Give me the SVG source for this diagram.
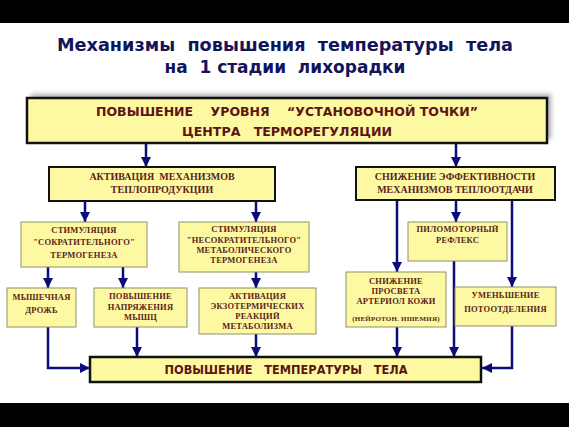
<svg xmlns="http://www.w3.org/2000/svg" width="569" height="427" viewBox="0 0 569 427">
<style>
text{white-space:pre}
.bar{fill:#000}
.title{font-family:"DejaVu Sans",Verdana,sans-serif;font-weight:bold;font-size:18px;fill:#14145a;text-anchor:middle}
.big{fill:#fdf9a2;stroke:#111;stroke-width:2.5}
.mid{fill:#fdf9a2;stroke:#111;stroke-width:2}
.sm{fill:#fdf9a2;stroke:#8f8f6a;stroke-width:1}
.bt{font-family:"DejaVu Sans",Tahoma,sans-serif;font-weight:bold;font-size:12.5px;fill:#5e1414;text-anchor:middle}
.st{font-family:"Liberation Serif","Times New Roman",serif;font-weight:bold;font-size:10px;fill:#5a2418;text-anchor:middle}
.tt{font-family:"Liberation Serif","Times New Roman",serif;font-weight:bold;font-size:8.5px;fill:#5a2418;text-anchor:middle;letter-spacing:0.2px}
.ln{fill:none;stroke:#0c0c78;stroke-width:2.5}
</style>
<defs>
<marker id="ah" viewBox="0 0 10 10" refX="10" refY="5" markerWidth="4" markerHeight="4" orient="auto" markerUnits="strokeWidth">
<path d="M0,0 L10,5 L0,10 z" fill="#0c0c78"/>
</marker>
<filter id="blur" x="-10%" y="-50%" width="120%" height="200%">
<feGaussianBlur stdDeviation="2.5"/>
</filter>
</defs>
<rect class="bar" x="0" y="0" width="569" height="23"/>
<rect class="bar" x="0" y="403" width="569" height="24"/>
<text class="title" x="285" y="51" textLength="456" lengthAdjust="spacingAndGlyphs">Механизмы  повышения  температуры  тела</text>
<text class="title" x="285" y="73" textLength="241" lengthAdjust="spacingAndGlyphs">на  1 стадии  лихорадки</text>

<g id="connectors">
<line class="ln" x1="146" y1="143" x2="146" y2="167" marker-end="url(#ah)"/>
<line class="ln" x1="456" y1="143" x2="456" y2="167" marker-end="url(#ah)"/>
<line class="ln" x1="85" y1="201" x2="85" y2="222" marker-end="url(#ah)"/>
<line class="ln" x1="256" y1="201" x2="256" y2="222" marker-end="url(#ah)"/>
<line class="ln" x1="48" y1="267" x2="48" y2="288" marker-end="url(#ah)"/>
<line class="ln" x1="123" y1="267" x2="123" y2="288" marker-end="url(#ah)"/>
<line class="ln" x1="256" y1="272" x2="256" y2="288" marker-end="url(#ah)"/>
<polyline class="ln" points="48,327 48,368 90,368" marker-end="url(#ah)"/>
<line class="ln" x1="137" y1="327" x2="137" y2="357" marker-end="url(#ah)"/>
<line class="ln" x1="256" y1="334" x2="256" y2="357" marker-end="url(#ah)"/>
<line class="ln" x1="397" y1="200" x2="397" y2="272" marker-end="url(#ah)"/>
<line class="ln" x1="456" y1="200" x2="456" y2="222" marker-end="url(#ah)"/>
<line class="ln" x1="512" y1="200" x2="512" y2="287" marker-end="url(#ah)"/>
<line class="ln" x1="397" y1="327" x2="397" y2="357" marker-end="url(#ah)"/>
<line class="ln" x1="454" y1="261" x2="454" y2="357" marker-end="url(#ah)"/>
<polyline class="ln" points="512,326 512,368 482,368" marker-end="url(#ah)"/>
</g>

<g id="n-setpoint">
<rect x="31" y="94" width="520" height="45" fill="#777" opacity="0.6" filter="url(#blur)"/>
<rect class="big" x="27" y="98" width="520" height="45"/>
<text class="bt" x="287" y="116" textLength="382" lengthAdjust="spacingAndGlyphs">ПОВЫШЕНИЕ    УРОВНЯ    “УСТАНОВОЧНОЙ ТОЧКИ”</text>
<text class="bt" x="287" y="136" textLength="210" lengthAdjust="spacingAndGlyphs">ЦЕНТРА   ТЕРМОРЕГУЛЯЦИИ</text>
</g>

<g id="n-activation">
<rect class="mid" x="49" y="167" width="226" height="34"/>
<text class="st" x="162" y="180">АКТИВАЦИЯ  МЕХАНИЗМОВ</text>
<text class="st" x="162" y="193">ТЕПЛОПРОДУКЦИИ</text>
</g>

<g id="n-reduction">
<rect class="mid" x="356" y="167" width="199" height="33"/>
<text class="st" x="455" y="180">СНИЖЕНИЕ ЭФФЕКТИВНОСТИ</text>
<text class="st" x="455" y="193">МЕХАНИЗМОВ ТЕПЛООТДАЧИ</text>
</g>

<g id="n-shiver-thermo">
<rect class="sm" x="21" y="222" width="126" height="45"/>
<text class="tt" x="84" y="233">СТИМУЛЯЦИЯ</text>
<text class="tt" x="84" y="245">"СОКРАТИТЕЛЬНОГО"</text>
<text class="tt" x="84" y="258">ТЕРМОГЕНЕЗА</text>
</g>

<g id="n-nonshiver-thermo">
<rect class="sm" x="179" y="222" width="130" height="50"/>
<text class="tt" x="244" y="232">СТИМУЛЯЦИЯ</text>
<text class="tt" x="244" y="243">"НЕСОКРАТИТЕЛЬНОГО"</text>
<text class="tt" x="244" y="253">МЕТАБОЛИЧЕСКОГО</text>
<text class="tt" x="244" y="263">ТЕРМОГЕНЕЗА</text>
</g>

<g id="n-pilomotor">
<rect class="sm" x="408" y="222" width="99" height="39"/>
<text class="tt" x="457.5" y="232">ПИЛОМОТОРНЫЙ</text>
<text class="tt" x="457.5" y="243">РЕФЛЕКС</text>
</g>

<g id="n-shiver">
<rect class="sm" x="7" y="288" width="69" height="39"/>
<text class="tt" x="41.5" y="300">МЫШЕЧНАЯ</text>
<text class="tt" x="41.5" y="313">ДРОЖЬ</text>
</g>

<g id="n-tension">
<rect class="sm" x="94" y="288" width="93" height="39"/>
<text class="tt" x="140.5" y="299">ПОВЫШЕНИЕ</text>
<text class="tt" x="140.5" y="310">НАПРЯЖЕНИЯ</text>
<text class="tt" x="140.5" y="320">МЫШЦ</text>
</g>

<g id="n-exothermic">
<rect class="sm" x="199" y="288" width="117" height="46"/>
<text class="tt" x="257.5" y="299">АКТИВАЦИЯ</text>
<text class="tt" x="257.5" y="309">ЭКЗОТЕРМИЧЕСКИХ</text>
<text class="tt" x="257.5" y="319">РЕАКЦИЙ</text>
<text class="tt" x="257.5" y="329">МЕТАБОЛИЗМА</text>
</g>

<g id="n-arterioles">
<rect class="sm" x="346" y="272" width="100" height="55"/>
<text class="tt" x="396" y="284">СНИЖЕНИЕ</text>
<text class="tt" x="396" y="294">ПРОСВЕТА</text>
<text class="tt" x="396" y="304">АРТЕРИОЛ КОЖИ</text>
<text class="tt" x="396" y="321" style="font-size:7px">(НЕЙРОТОН. ИШЕМИЯ)</text>
</g>

<g id="n-sweat">
<rect class="sm" x="455" y="287" width="101" height="39"/>
<text class="tt" x="505.5" y="298">УМЕНЬШЕНИЕ</text>
<text class="tt" x="505.5" y="312">ПОТООТДЕЛЕНИЯ</text>
</g>

<g id="n-temp">
<rect class="big" x="90" y="357" width="391" height="25"/>
<text class="bt" x="286" y="374" textLength="243" lengthAdjust="spacingAndGlyphs">ПОВЫШЕНИЕ   ТЕМПЕРАТУРЫ   ТЕЛА</text>
</g>
</svg>
